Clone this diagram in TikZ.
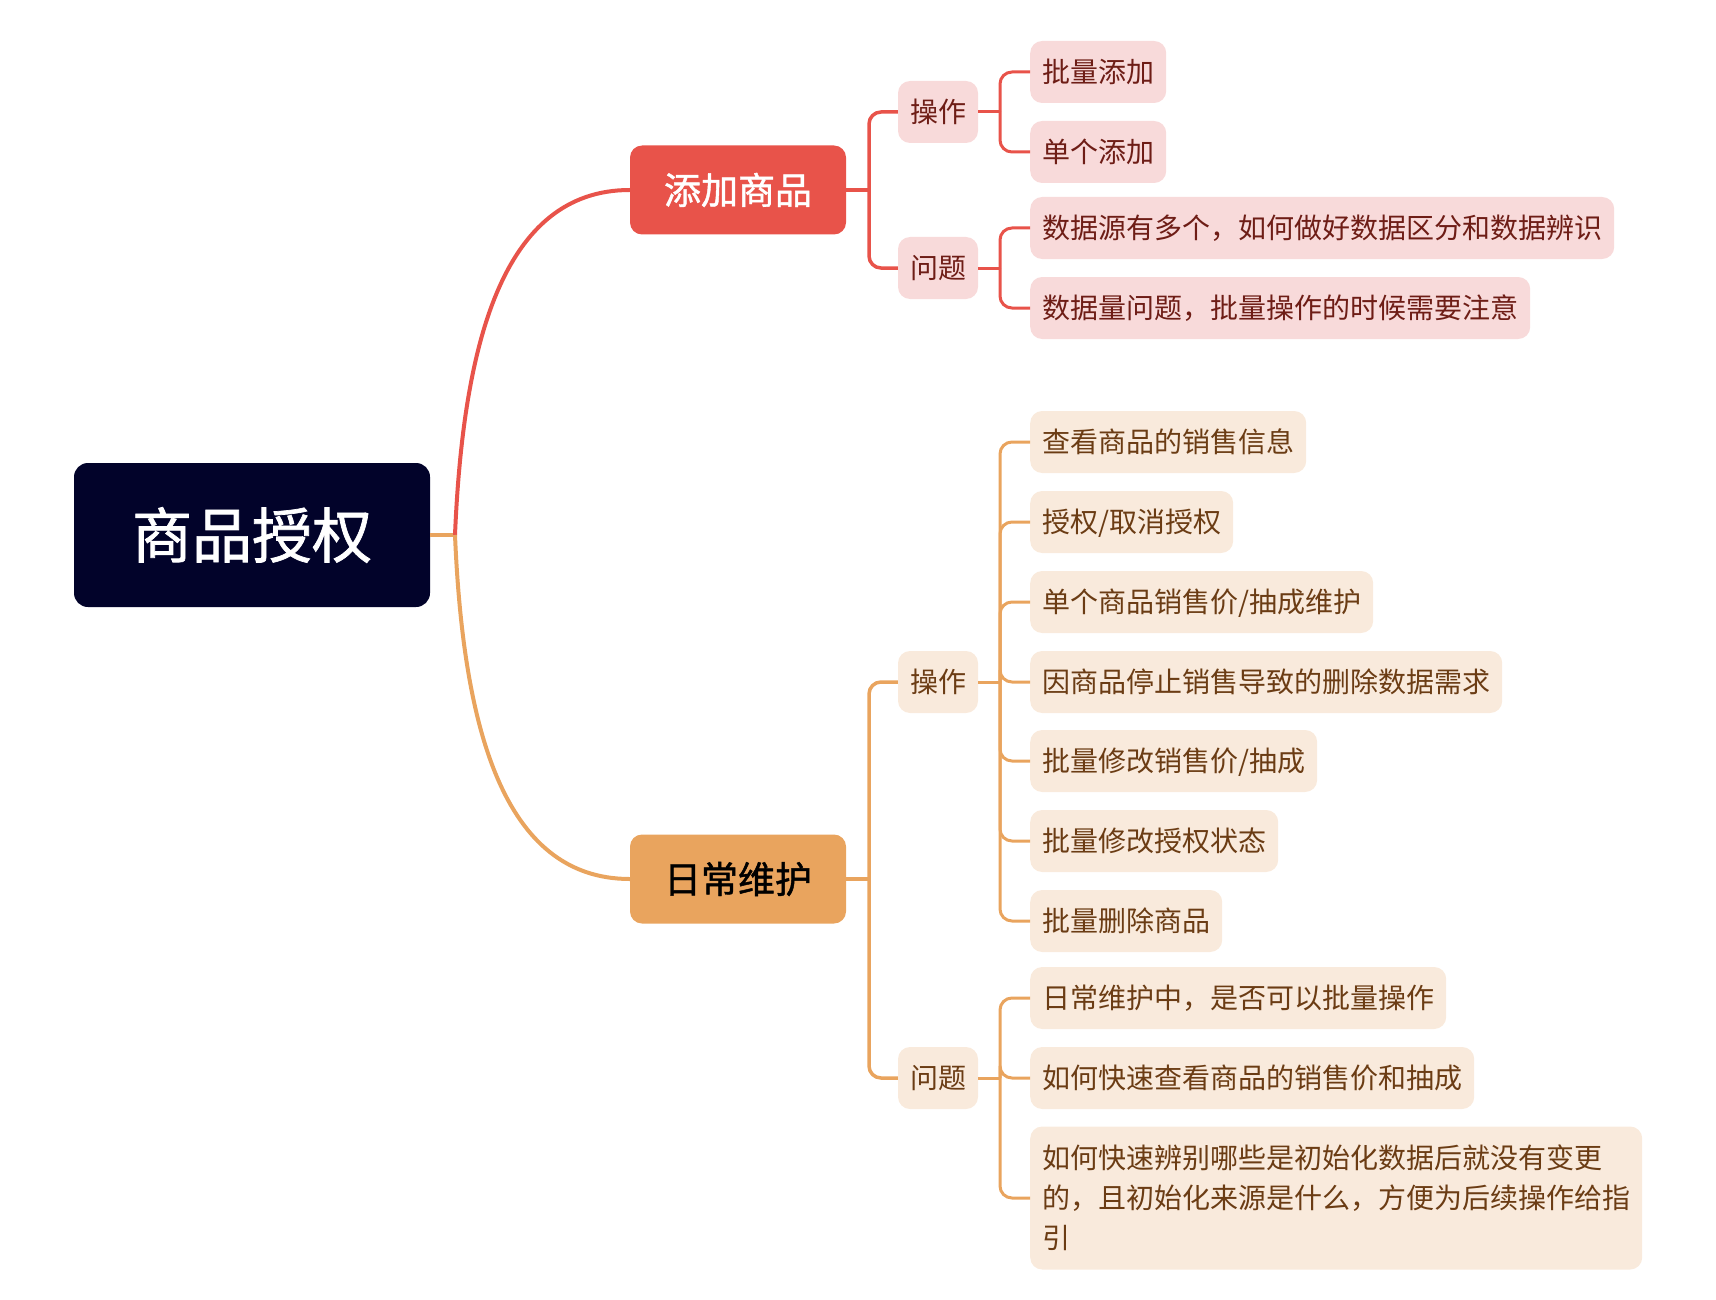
\documentclass[tikz,border=0pt]{standalone}
\usepackage{fontspec}
\setmainfont{Noto Sans CJK SC}
\newfontfamily\heavycjk[FakeBold=1.2]{Noto Sans CJK SC}
\definecolor{rootfill}{HTML}{02032A}
\definecolor{redc}{HTML}{E8534A}
\definecolor{redleaf}{HTML}{F8DADA}
\definecolor{redtext}{HTML}{6E1D16}
\definecolor{orac}{HTML}{E9A45E}
\definecolor{oraleaf}{HTML}{F9EADC}
\definecolor{oratext}{HTML}{6B3C14}
\tikzset{
  rootbox/.style={inner ysep=0pt, text height=50.4pt, text depth=4.8pt, fill=rootfill, text=white,
    rounded corners=14pt, minimum width=356pt, minimum height=144pt,
    font=\heavycjk\fontsize{60}{60}\selectfont},
  lone/.style={inner ysep=0pt, text height=31.1pt, text depth=3pt, rounded corners=12pt,
    minimum width=216pt, minimum height=89pt, font=\heavycjk\fontsize{37}{37}\selectfont},
  ltwo/.style={inner ysep=0pt, text height=23.5pt, text depth=2.2pt, rounded corners=12pt,
    minimum width=80pt, minimum height=62pt, font=\fontsize{28}{28}\selectfont},
  leaf/.style={rounded corners=12pt, minimum height=62pt, inner xsep=12pt, anchor=west,
    font=\fontsize{28}{40}\selectfont},
  oneline/.style={inner ysep=0pt, text height=23.5pt, text depth=2.2pt},
  rleaf/.style={leaf, oneline, fill=redleaf, text=redtext},
  oleaf/.style={leaf, fill=oraleaf, text=oratext},
  rline/.style={draw=redc, line width=3.5pt},
  oline/.style={draw=orac, line width=3.5pt},
  rc/.style={rounded corners=12pt},
}
\begin{document}
\begin{tikzpicture}[x=1pt,y=-1pt]
\useasboundingbox (0,0) rectangle (1716,1300);

\node[rootbox] (root) at (252,535) {商品授权};
\node[lone, fill=redc, text=white] (add) at (738,190) {添加商品};
\node[lone, fill=orac, text=black] (day) at (738,879) {日常维护};

\node[ltwo, fill=redleaf, text=redtext] (op1) at (938,112) {操作};
\node[ltwo, fill=redleaf, text=redtext] (q1) at (938,268) {问题};
\node[ltwo, fill=oraleaf, text=oratext] (op2) at (938,682) {操作};
\node[ltwo, fill=oraleaf, text=oratext] (q2) at (938,1078) {问题};

\node[rleaf] (a1) at (1030,72) {批量添加};
\node[rleaf] (a2) at (1030,152) {单个添加};
\node[rleaf] (a3) at (1030,228) {数据源有多个，如何做好数据区分和数据辨识};
\node[rleaf] (a4) at (1030,308) {数据量问题，批量操作的时候需要注意};

\node[oleaf, oneline] (b1) at (1030,442) {查看商品的销售信息};
\node[oleaf, oneline] (b2) at (1030,522) {授权/取消授权};
\node[oleaf, oneline] (b3) at (1030,602) {单个商品销售价/抽成维护};
\node[oleaf, oneline] (b4) at (1030,682) {因商品停止销售导致的删除数据需求};
\node[oleaf, oneline] (b5) at (1030,761) {批量修改销售价/抽成};
\node[oleaf, oneline] (b6) at (1030,841) {批量修改授权状态};
\node[oleaf, oneline] (b7) at (1030,921) {批量删除商品};

\node[oleaf, oneline] (c1) at (1030,998) {日常维护中，是否可以批量操作};
\node[oleaf, oneline] (c2) at (1030,1078) {如何快速查看商品的销售价和抽成};
\node[oleaf, align=left, inner ysep=12pt, minimum height=143pt] (c3) at (1030,1198)
  {如何快速辨别哪些是初始化数据后就没有变更\\的，且初始化来源是什么，方便为后续操作给指\\引};

% root to level 1
\coordinate (j) at (455,535);
\draw[oline] (root.east) -- (j);
\draw[rline, line width=4pt] (j) .. controls (463,345) and (502,190) .. (add.west);
\draw[oline, line width=4pt] (j) .. controls (463,725) and (502,879) .. (day.west);

% level 1 to level 2
\coordinate (s1) at (869,190);
\draw[rline] (add.east) -- (s1);
\draw[rline, rc] (s1) |- (op1.west);
\draw[rline, rc] (s1) |- (q1.west);
\coordinate (s2) at (869,879);
\draw[oline] (day.east) -- (s2);
\draw[oline, rc] (s2) |- (op2.west);
\draw[oline, rc] (s2) |- (q2.west);

% level 2 to leaves
\coordinate (t1) at (1000,112);
\draw[rline, line width=3pt] (op1.east) -- (t1);
\foreach \n in {a1,a2} \draw[rline, line width=3pt, rc] (t1) |- (\n.west);
\coordinate (t2) at (1000,268);
\draw[rline, line width=3pt] (q1.east) -- (t2);
\foreach \n in {a3,a4} \draw[rline, line width=3pt, rc] (t2) |- (\n.west);
\coordinate (t3) at (1000,682);
\draw[oline, line width=3pt] (op2.east) -- (t3);
\foreach \n in {b1,b2,b3,b4,b5,b6,b7} \draw[oline, line width=3pt, rc] (t3) |- (\n.west);
\coordinate (t4) at (1000,1078);
\draw[oline, line width=3pt] (q2.east) -- (t4);
\foreach \n in {c1,c2,c3} \draw[oline, line width=3pt, rc] (t4) |- (\n.west);
\end{tikzpicture}
\end{document}
